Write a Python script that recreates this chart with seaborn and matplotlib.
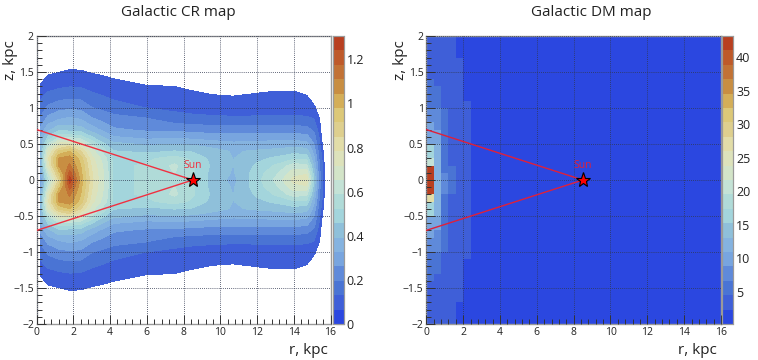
import numpy as np
import pandas as pd
import matplotlib
matplotlib.use('Agg')
import matplotlib.pyplot as plt
from matplotlib.cm import ScalarMappable
from matplotlib.colors import ListedColormap, Normalize
import seaborn as sns

# colour bands, bottom to top
band_colors = ['#2B47E0', '#3F5FD8', '#4A74D4', '#5F8ADA', '#78A5DF', '#85B3E0', '#8FC0DA',
               '#A3D5DC', '#B0DBD8', '#C4E2D6', '#D3E4C8', '#DDE2BB', '#E2DDA8', '#DECF8E',
               '#DCC878', '#D4AE58', '#C88E42', '#C27235', '#BE5A2A', '#B83F20']

x_ticks = [0, 2, 4, 6, 8, 10, 12, 14, 16]
z_ticks = [2, 1.5, 1, 0.5, 0, -0.5, -1, -1.5, -2]
z_tick_labels = ['2', '1.5', '1', '0.5', '0', '\u22120.5', '\u22121', '\u22121.5', '\u22122']
cr_bar_ticks = [0, 0.2, 0.4, 0.6, 0.8, 1, 1.2]
dm_bar_ticks = [5, 10, 15, 20, 25, 30, 35, 40]

sun_r = 8.5
cone_z = 0.7

# CR map, upper half (mirrored below the plane): one row per radius
cr_r = [0.2, 0.6, 1.2, 1.8, 2.4, 3.0, 3.6, 4.2, 6.0, 7.5, 8.5, 9.5, 10.7, 12.0, 13.0, 14.0, 14.7, 15.1, 15.4, 15.55, 15.7]
cr_z = [0, 0.1, 0.2, 0.3, 0.4, 0.5, 0.6, 0.7, 0.85, 1.0, 1.15, 1.3, 1.45, 1.6, 1.8]
cr_values = [
    [.25, .28, .33, .36, .36, .34, .32, .28, .20, .16, .12, .08, 0, 0, 0],
    [.55, .62, .72, .76, .70, .58, .46, .37, .28, .21, .155, .105, .068, 0, 0],
    [.85, .95, 1.05, 1.05, .92, .74, .57, .44, .32, .24, .175, .12, .08, .03, 0],
    [1.28, 1.20, 1.12, 1.08, .98, .78, .56, .43, .34, .25, .185, .128, .085, .05, 0],
    [1.02, 1.0, .98, .95, .85, .70, .54, .42, .32, .245, .18, .125, .085, .045, 0],
    [.80, .79, .77, .74, .68, .58, .46, .36, .27, .20, .15, .11, .075, .03, 0],
    [.66, .66, .65, .63, .57, .47, .39, .31, .24, .18, .135, .10, .065, .02, 0],
    [.51, .51, .51, .50, .46, .41, .33, .27, .22, .16, .12, .09, .055, 0, 0],
    [.53, .53, .53, .51, .44, .38, .30, .25, .20, .13, .10, .07, .02, 0, 0],
    [.58, .59, .60, .55, .46, .39, .31, .245, .16, .115, .09, .065, .01, 0, 0],
    [.52, .53, .53, .51, .45, .38, .30, .235, .15, .105, .08, .055, 0, 0, 0],
    [.44, .44, .45, .44, .42, .36, .29, .23, .145, .10, .075, .035, 0, 0, 0],
    [.37, .385, .39, .39, .385, .34, .29, .23, .14, .10, .07, .02, 0, 0, 0],
    [.50, .49, .47, .44, .40, .35, .29, .23, .14, .105, .08, .04, 0, 0, 0],
    [.60, .57, .53, .47, .41, .355, .29, .23, .14, .108, .085, .05, 0, 0, 0],
    [.74, .69, .62, .51, .43, .36, .29, .23, .14, .11, .085, .05, 0, 0, 0],
    [.78, .70, .60, .50, .42, .35, .28, .22, .14, .10, .075, .02, 0, 0, 0],
    [.45, .42, .38, .34, .30, .26, .22, .18, .13, .08, .03, 0, 0, 0, 0],
    [.22, .21, .20, .18, .16, .14, .12, .10, .065, .03, 0, 0, 0, 0, 0],
    [.15, .15, .14, .12, .10, .065, .04, .02, 0, 0, 0, 0, 0, 0, 0],
    [.068, .06, .04, .02, 0, 0, 0, 0, 0, 0, 0, 0, 0, 0, 0],
]

# DM map, cells 0.4 kpc wide and 0.1 kpc tall, listed from z=2 down to z=-2
dm_col_1 = [3.5] * 6 + [5.5] * 4 + [8] * 2 + [10] * 3 + [16.5] * 2 + [21] + [42] * 4 + [27.5] + [16.5] * 2 \
    + [10] * 3 + [8] * 2 + [5.5] * 4 + [3.5] * 6
dm_col_2 = [3.5] * 7 + [5.5] * 3 + [8] * 3 + [10] * 2 + [12] * 10 + [10] * 2 + [8] * 3 + [5.5] * 3 + [3.5] * 7
dm_col_3 = [3.5] * 10 + [5.5] * 9 + [8] * 3 + [5.5] * 8 + [3.5] * 10
dm_col_4 = [3.5] * 18 + [5.5] * 4 + [3.5] * 18
dm_col_5 = [1] * 3 + [3.5] * 34 + [1] * 3
dm_col_6 = [1] * 9 + [3.5] * 22 + [1] * 9
dm_background = 1.0
n_dm_cols = 40


def px_axes(left, top, right, bottom):
    return fig.add_axes([left / 758, 1 - bottom / 360, (right - left) / 758, (bottom - top) / 360])


sns.set_theme(style='ticks')
plt.rcParams['font.family'] = ['Open Sans', 'DejaVu Sans']
cmap = ListedColormap(band_colors)
spine_color = '#9a9a9a'
text_color = '#222222'

fig = plt.figure(figsize=(7.58, 3.6), dpi=100)
ax_cr = px_axes(36.7, 36, 330.5, 324)
cax_cr = px_axes(332.7, 36, 343.8, 324)
ax_dm = px_axes(426.3, 36, 721, 324)
cax_dm = px_axes(722, 36, 733.3, 324)

# left panel
cr_top = 1.306
step = cr_top / len(band_colors)
levels = [step * k for k in range(1, len(band_colors) + 1)]
half = np.array(cr_values)
z_full = list(-np.array(cr_z[:0:-1])) + cr_z
grid = np.hstack([half[:, :0:-1], half]).T
ax_cr.contourf(cr_r, z_full, grid, levels=levels, colors=band_colors[1:], zorder=1)
ax_cr.set_xlim(0, 16)
ax_cr.set_ylim(-2, 2)
ax_cr.set_xticks(x_ticks)
ax_cr.set_xticks(np.arange(0, 16.01, 0.4), minor=True)
ax_cr.set_yticks(z_ticks)
ax_cr.set_yticks(np.arange(-2, 2.01, 0.1), minor=True)
ax_cr.set_yticklabels(z_tick_labels)
ax_cr.plot([0, sun_r], [cone_z, 0], color='#f03040', lw=1, zorder=4)
ax_cr.plot([0, sun_r], [-cone_z, 0], color='#f03040', lw=1, zorder=4)
ax_cr.plot([sun_r], [0], marker='*', ms=11, mfc='red', mec='black', mew=0.8, zorder=5)
ax_cr.text(sun_r, 0.2, 'Sun', color='#f03040', fontsize=7.5, ha='center', va='center', zorder=5)

fig.colorbar(ScalarMappable(Normalize(0, cr_top), cmap), cax=cax_cr, ticks=cr_bar_ticks)
cax_cr.set_yticklabels(['0', '0.2', '0.4', '0.6', '0.8', '1', '1.2'])

# right panel
dm = np.full((40, n_dm_cols), dm_background)
for i, col in enumerate([dm_col_1, dm_col_2, dm_col_3, dm_col_4, dm_col_5, dm_col_6]):
    dm[:, i] = col
dm_cols = [round(0.4 * i + 0.2, 1) for i in range(n_dm_cols)]
dm_rows = [round(1.95 - 0.1 * i, 2) for i in range(40)]
dm_table = pd.DataFrame(dm, index=dm_rows, columns=dm_cols)
sns.heatmap(dm_table, ax=ax_dm, cmap=cmap, vmin=0.17, vmax=43.2, cbar_ax=cax_dm,
            cbar_kws={'ticks': dm_bar_ticks}, xticklabels=False, yticklabels=False)


def dm_x(r):
    return np.asarray(r) / 0.4


def dm_y(z):
    return (2 - np.asarray(z)) / 0.1


ax_dm.set_xticks(dm_x(x_ticks))
ax_dm.set_xticklabels(x_ticks)
ax_dm.set_xticks(dm_x(np.arange(0, 16.01, 0.4)), minor=True)
ax_dm.set_yticks(dm_y(z_ticks))
ax_dm.set_yticklabels(z_tick_labels)
ax_dm.set_yticks(dm_y(np.arange(-2, 2.01, 0.1)), minor=True)
ax_dm.plot(dm_x([0, sun_r]), dm_y([cone_z, 0]), color='#e0203a', lw=1, zorder=4)
ax_dm.plot(dm_x([0, sun_r]), dm_y([-cone_z, 0]), color='#e0203a', lw=1, zorder=4)
ax_dm.plot(dm_x([sun_r]), dm_y([0]), marker='*', ms=11, mfc='red', mec='black', mew=0.8, zorder=5)
ax_dm.text(dm_x(sun_r), dm_y(0.2), 'Sun', color='#e0203a', fontsize=7.5, ha='center', va='center', zorder=5)

# shared ROOT-like axis styling
for ax in [ax_cr, ax_dm]:
    ax.grid(True, which='major', color='#30384f', lw=0.6, ls=(0, (1, 1.5)), zorder=3)
    ax.set_axisbelow(False)
    ax.tick_params(axis='both', which='major', direction='in', length=6.5, width=0.7, color='#333333',
                   labelsize=7.5, labelcolor=text_color, pad=2, top=False, right=False,
                   left=True, bottom=True, labelleft=True, labelbottom=True)
    ax.tick_params(axis='both', which='minor', direction='in', length=3.5, width=0.7, color='#333333',
                   top=False, right=False, left=True, bottom=True)
    ax.tick_params(axis='y', labelrotation=0)
    ax.tick_params(axis='x', labelrotation=0)
    for side in ax.spines:
        ax.spines[side].set_visible(True)
        ax.spines[side].set_color(spine_color)
        ax.spines[side].set_linewidth(1.0)

for cax in [cax_cr, cax_dm]:
    cax.tick_params(axis='y', direction='in', length=6, width=0.8, color='#333333', labelsize=9,
                    labelcolor=text_color, pad=2, right=True, left=False)
    cax.minorticks_off()
    for side in cax.spines:
        cax.spines[side].set_visible(True)
        cax.spines[side].set_color(spine_color)
        cax.spines[side].set_linewidth(0.8)

fig.text(178 / 758, 1 - 12 / 360, 'Galactic CR map', fontsize=11, color=text_color, ha='center', va='center')
fig.text(591 / 758, 1 - 12 / 360, 'Galactic DM map', fontsize=11, color=text_color, ha='center', va='center')
fig.text(328 / 758, 1 - 350 / 360, 'r, kpc', fontsize=11, color=text_color, ha='right', va='center')
fig.text(717 / 758, 1 - 350 / 360, 'r, kpc', fontsize=11, color=text_color, ha='right', va='center')
fig.text(11 / 758, 1 - 40 / 360, 'z, kpc', fontsize=11, color=text_color, rotation=90, ha='center', va='top')
fig.text(400 / 758, 1 - 40 / 360, 'z, kpc', fontsize=11, color=text_color, rotation=90, ha='center', va='top')

fig.savefig('out.png', dpi=100)
